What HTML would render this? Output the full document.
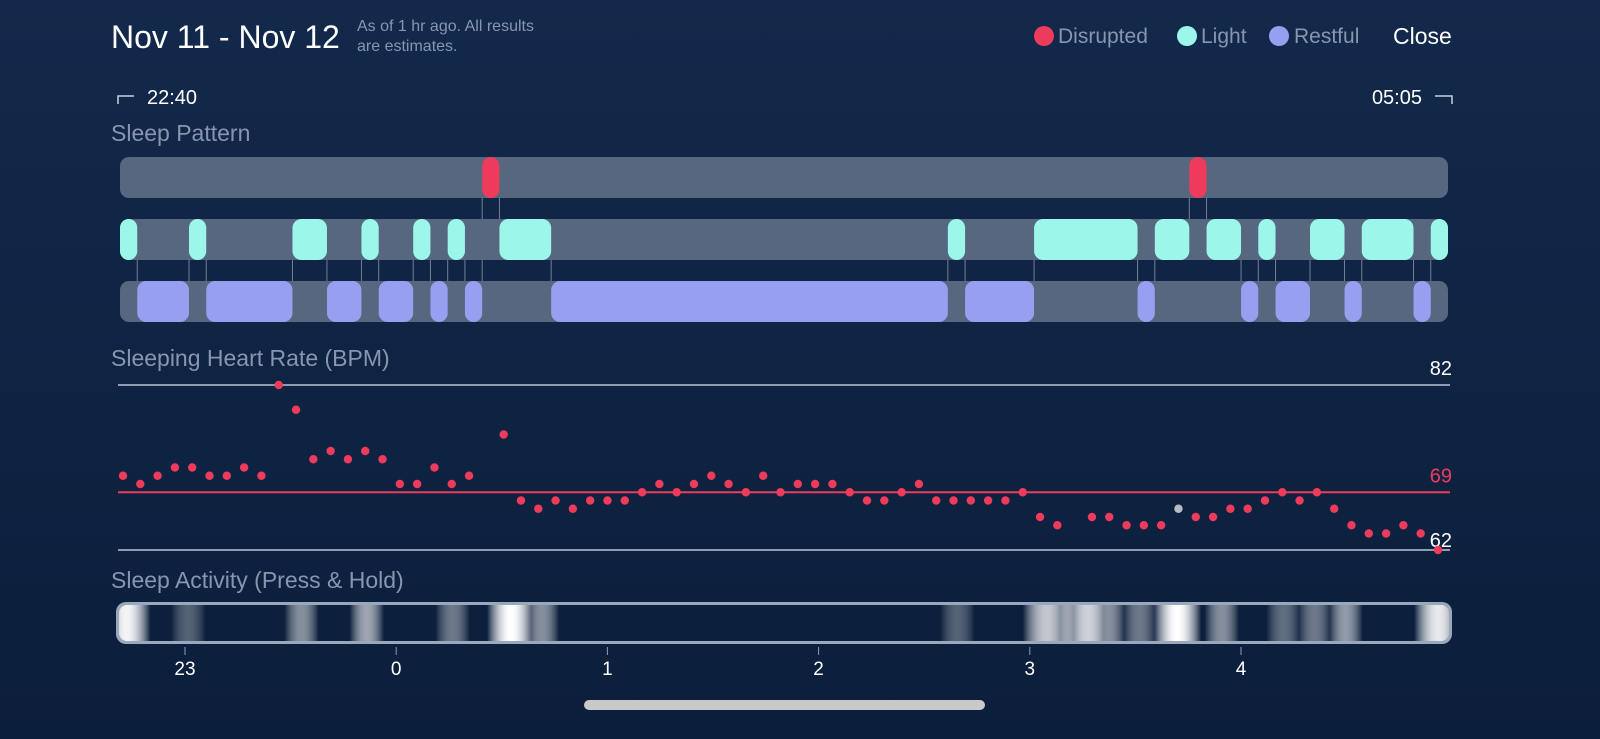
<!DOCTYPE html>
<html><head><meta charset="utf-8"><style>
html,body{margin:0;padding:0;background:#0f2443;}
svg{display:block;font-family:"Liberation Sans",sans-serif;}
</style></head><body>
<svg id="chart" width="1600" height="739" viewBox="0 0 1600 739">
<defs>
<linearGradient id="bg" x1="0" y1="0" x2="0" y2="1">
<stop offset="0" stop-color="#13294b"/><stop offset="1" stop-color="#0b1e3b"/>
</linearGradient>
</defs>
<rect width="1600" height="739" fill="url(#bg)"/>
<text x="111" y="48" font-size="32" fill="#ffffff">Nov 11 - Nov 12</text>
<text x="357" y="31" font-size="16" fill="#8796ae">As of 1 hr ago. All results</text>
<text x="357" y="51" font-size="16" fill="#8796ae">are estimates.</text>
<g>
<circle cx="1044" cy="36" r="10" fill="#ee3b5b"/>
<text x="1058" y="43" font-size="21" fill="#8796ae">Disrupted</text>
<circle cx="1187" cy="36" r="10" fill="#9cf7ea"/>
<text x="1201" y="43" font-size="21" fill="#8796ae">Light</text>
<circle cx="1279" cy="36" r="10" fill="#979ff0"/>
<text x="1294" y="43" font-size="21" fill="#8796ae">Restful</text>
</g>
<text x="1393" y="44" font-size="23" fill="#ffffff">Close</text>
<path d="M118 104 V96 H134" stroke="#c7cfdb" stroke-width="1.5" fill="none"/>
<text x="147" y="104" font-size="20" fill="#ffffff">22:40</text>
<path d="M1435 96 H1452 V104" stroke="#c7cfdb" stroke-width="1.5" fill="none"/>
<text x="1422" y="104" font-size="20" fill="#ffffff" text-anchor="end">05:05</text>
<text x="111" y="141" font-size="23" fill="#8796ae">Sleep Pattern</text>
<text x="111" y="366" font-size="23" fill="#8796ae">Sleeping Heart Rate (BPM)</text>
<text x="111" y="588" font-size="23" fill="#8796ae">Sleep Activity (Press &amp; Hold)</text>
<g id="pattern"></g>
<g id="hr"></g>
<g id="activity"></g>
<rect x="584" y="700" width="401" height="10" rx="5" fill="#c9c9c9"/>
</svg>
<script>
const NS="http://www.w3.org/2000/svg";
// Sleep stage segments, minutes from 22:40
const disruptedSegs=[[105,110],[310,315]];
const lightSegs=[[0,5],[20,25],[50,60],[70,75],[85,90],[95,100],[110,125],[240,245],[265,295],[300,310],[315,325],[330,335],[345,355],[360,375],[380,385]];
const restfulSegs=[[5,20],[25,50],[60,70],[75,85],[90,95],[100,105],[125,240],[245,265],[295,300],[325,330],[335,345],[355,360],[375,380]];
const totalMinutes=385;
// Heart rate (BPM), one per 5 min, null = missing
const hrValues=[71,70,71,72,72,71,71,72,71,82,79,73,74,73,74,73,70,70,72,70,71,null,76,68,67,68,67,68,68,68,69,70,69,70,71,70,69,71,69,70,70,70,69,68,68,69,70,68,68,68,68,68,69,66,65,null,66,66,65,65,65,67,66,66,67,67,68,69,68,69,67,65,64,64,65,64,62];
const hrGrayIndex=[61];
const hrRefLines=[82,69,62];
const hrRefLabels=["82","69","62"];
// Activity intensity bands: minutes from 22:40, intensity 0..1
const actTimes=[1,19,52,71,96,113,122,243,269,275,281,287,296,307,320,338,347,356,383];
const actLevels=[0.95,0.3,0.5,0.6,0.4,1.0,0.5,0.3,0.75,0.6,0.8,0.5,0.4,1.0,0.5,0.35,0.4,0.55,0.9];
const axisHours=["23","0","1","2","3","4"];

function xs(m){return 120+m*(1448-120)/totalMinutes;}
function el(tag,attrs,parent){const e=document.createElementNS(NS,tag);for(const k in attrs)e.setAttribute(k,attrs[k]);parent.appendChild(e);return e;}

const P=document.getElementById('pattern');
const rows=[{y:157,segs:disruptedSegs,c:"#ee3b5b",n:"disrupted"},{y:219,segs:lightSegs,c:"#9cf7ea",n:"light"},{y:281,segs:restfulSegs,c:"#979ff0",n:"restful"}];
const H=41;
const conn=el('g',{},P);


rows.forEach(r=>{
  const t=el('rect',{x:120,y:r.y,width:1328,height:H,rx:9,fill:"#56677f"},P);
  
  
});
function rowOf(m){for(let i=0;i<3;i++){for(const s of rows[i].segs){if(m>=s[0]&&m<s[1])return i;}}return -1;}
const bounds=new Set();rows.forEach(r=>r.segs.forEach(s=>{bounds.add(s[0]);bounds.add(s[1]);}));
[...bounds].forEach(b=>{
  if(b<=0||b>=totalMinutes)return;
  const a=rowOf(b-0.5),c=rowOf(b+0.5);if(a<0||c<0||a===c)return;
  const lo=Math.min(a,c),hi=Math.max(a,c);
  const l=el('line',{x1:xs(b),x2:xs(b),y1:rows[lo].y+H/2,y2:rows[hi].y+H/2,stroke:"#9aa6b8","stroke-width":1,opacity:0.7},conn);
  
  
});
rows.forEach(r=>{r.segs.forEach(s=>{
  const w=xs(s[1])-xs(s[0]);
  const b=el('rect',{x:xs(s[0]),y:r.y,width:w,height:H,rx:Math.min(9,w/2),fill:r.c},P);
  
  
});});

// heart rate
const G=document.getElementById('hr');
function ys(v){return 385+(82-v)*(550-385)/20;}
function hx(i){return 123+i*(1438-123)/(hrValues.length-1);}
const lineCols=["#8e9bb0","#ee3b5b","#8e9bb0"];
const labCols=["#ffffff","#ee3b5b","#ffffff"];
const labDy=[-10,-10,-3];
hrRefLines.forEach((v,i)=>{
  const l=el('line',{x1:118,x2:1450,y1:ys(v),y2:ys(v),stroke:lineCols[i],"stroke-width":2},G);
  
  
  const t=el('text',{x:1452,y:ys(v)+labDy[i],"font-size":20,fill:labCols[i],"text-anchor":"end"},G);
  t.textContent=hrRefLabels[i];
  
  
});
hrValues.forEach((v,i)=>{
  if(v===null)return;
  const d=el('circle',{cx:hx(i),cy:ys(v),r:4.2,fill:hrGrayIndex.includes(i)?"#b8bcc2":"#ee3b5b"},G);
  
  
});

// activity
const A=document.getElementById('activity');
const defs=document.querySelector('defs');
const grad=el('linearGradient',{id:"actg",x1:0,y1:0,x2:1,y2:0},defs);
const bx=116,bw=1336;
function frac(m){return Math.max(0,Math.min(1,(xs(m)-bx)/bw));}
const samples=[];
for(let m=-2;m<=totalMinutes+2;m+=0.5){
  let k=0;
  actTimes.forEach((t,i)=>{const w=actLevels[i]>0.7?7:5;const d=Math.abs(m-t)/w;if(d<1){const v=actLevels[i]*(1-d*d);if(v>k)k=v;}});
  samples.push([frac(m),k]);
}
samples.forEach(s=>{const k=s[1];const base=[12,31,60],wh=[255,255,255];
  const c=base.map((b,j)=>Math.round(b+(wh[j]-b)*k));
  el('stop',{offset:s[0],"stop-color":`rgb(${c[0]},${c[1]},${c[2]})`},grad);});
const outer=el('rect',{x:bx,y:602,width:bw,height:42,rx:10,fill:"#9aa8be"},A);


const inner=el('rect',{x:bx+3,y:605,width:bw-6,height:36,rx:8,fill:"url(#actg)"},A);


axisHours.forEach((h,i)=>{
  const x=185+i*211.2;
  const tk=el('line',{x1:x,x2:x,y1:647,y2:655,stroke:"#8d9cb5","stroke-width":1},A);
  
  
  const t=el('text',{x:x,y:675,"font-size":19,fill:"#ffffff","text-anchor":"middle"},A);
  t.textContent=h;
  
  
});
</script>
</body></html>
